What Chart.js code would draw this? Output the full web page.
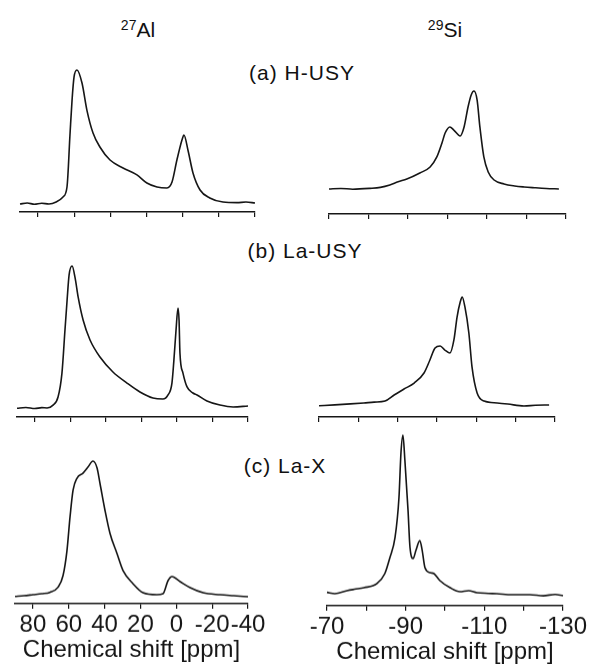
<!DOCTYPE html>
<html>
<head>
<meta charset="utf-8">
<script src="https://cdn.jsdelivr.net/npm/chart.js@4.4.0/dist/chart.umd.min.js"></script>
<style>
  body { margin: 0; width: 597px; height: 671px; background: #fff; position: relative; overflow: hidden;
         font-family: "Liberation Sans", Arial, sans-serif; color: #111; }
  canvas { position: absolute; }
  .lbl { position: absolute; font-size: 21px; line-height: 21px; white-space: nowrap;
         transform: translateX(-50%); letter-spacing: 1px; }
  .nuc { position: absolute; font-size: 21px; line-height: 21px; white-space: nowrap; transform: translateX(-50%); }
  .nuc sup { font-size: 14px; vertical-align: 0; position: relative; top: -7px; }
</style>
</head>
<body>
<div class="nuc" style="left:138px; top:19px;"><sup>27</sup>Al</div>
<div class="nuc" style="left:445px; top:19px;"><sup>29</sup>Si</div>
<div class="lbl" style="left:302px; top:62px;">(a) H-USY</div>
<div class="lbl" style="left:305px; top:240px;">(b) La-USY</div>
<div class="lbl" style="left:285px; top:455px;">(c) La-X</div>

<canvas id="alA" width="300" height="200"></canvas>
<canvas id="alB" width="300" height="200"></canvas>
<canvas id="alC" width="300" height="260"></canvas>
<canvas id="siA" width="300" height="200"></canvas>
<canvas id="siB" width="300" height="200"></canvas>
<canvas id="siC" width="300" height="260"></canvas>

<script>
// ====== Tick labels ======
const alTicks = [80, 60, 40, 20, 0, -20, -40];
const siTicks = [-70, -80, -90, -100, -110, -120, -130];
const siLabelled = [-70, -90, -110, -130];

// ====== 27Al spectra (ppm, relative intensity) ======
const alHusyShift = [90, 86, 82, 78, 74, 70, 66.2, 64, 62.3, 61.2, 60.1, 58.5, 55.7, 53, 49.6, 45.8, 40.2, 33, 25.3, 19.8, 14.2, 8.7, 5.9, 3.2, 0.4, -0.7, -2.9, -5.7, -9.6, -15, -22.3, -30, -35, -40];
const alHusyInt = [5.6, 6.3, 5.5, 6.2, 5.6, 7.0, 10.6, 17.6, 55.6, 78.9, 95.1, 100, 90.8, 71.8, 55.6, 45.8, 36.6, 31.0, 26.1, 20.4, 17.6, 16.9, 21.1, 36.6, 50.7, 54.2, 43.7, 27.5, 15.5, 9.9, 7.0, 6.6, 7.0, 6.3];

const alLausyShift = [90, 85, 80, 76, 73.1, 69.7, 66.9, 64.7, 63, 61.8, 60.7, 59, 57.3, 55.6, 52.8, 48.9, 43.3, 36, 28.1, 20.8, 13.5, 7.9, 5, 2.8, 1.7, 0.5, -0.6, -1.2, -1.7, -3.4, -5.7, -9, -11.3, -16.9, -24.2, -31.6, -40];
const alLausyInt = [5.8, 6.3, 5.6, 6.2, 6.0, 7.9, 13.2, 29.1, 57.6, 77.5, 94.0, 100, 92.1, 79.5, 64.2, 51, 39.7, 29.8, 22.5, 16.6, 12.6, 11.9, 14.6, 22.5, 37.7, 57.6, 72.2, 64.2, 42.4, 29.1, 19.9, 15.9, 14.6, 10.6, 7.9, 6.6, 7.3];

const alLaxShift = [90, 85, 80, 75, 70.5, 66, 63.2, 61, 59.3, 57.6, 55.4, 52.1, 49.3, 46.5, 44.2, 42.6, 39.8, 37, 33.1, 29.7, 24.2, 18.6, 10.8, 7.4, 4.6, 2.4, -2.1, -7.7, -14.9, -24.4, -32, -40];
const alLaxInt = [5.1, 5.6, 6.3, 7.0, 8.0, 11.5, 19.7, 37.3, 60.8, 79.6, 88, 91.5, 95.8, 100, 95.1, 84.5, 65.5, 49.3, 35.2, 23.2, 14.1, 7.7, 6.3, 7.0, 16.2, 19.0, 15.5, 11.3, 7.7, 6.3, 5.6, 4.9];

// ====== 29Si spectra ======
const siHusyShift = [-70, -73, -76, -80.4, -83, -85.4, -87.5, -89.7, -93, -95.6, -97.3, -98.6, -99.4, -100.6, -101.6, -103.2, -104.2, -105.2, -106, -106.7, -107.5, -108.2, -109.2, -110.3, -111.8, -114.3, -117, -119.4, -122, -125, -128.2];
const siHusyInt = [20.2, 20.6, 20.0, 20.7, 21.5, 23.4, 26.0, 28.2, 33.1, 37.9, 46, 57.3, 65.3, 70.2, 67.7, 62.9, 70.2, 86.3, 96, 99.2, 91.9, 70.2, 46, 33.9, 27.4, 24.2, 22.6, 21.8, 21.2, 20.6, 20.2];

const siLausyShift = [-70, -74, -78, -81.4, -84, -86.8, -89.1, -91.6, -94.2, -96.7, -98.2, -99.5, -100.8, -102, -103.3, -104.3, -105.1, -105.9, -106.4, -107.1, -108.1, -108.9, -110.2, -112, -115.3, -118, -122.1, -125, -128.5];
const siLausyInt = [9.4, 10.1, 10.9, 11.7, 12.4, 13.3, 18.3, 23.3, 28.3, 36.7, 47.5, 57.5, 59.2, 55.8, 53.3, 64.2, 83.3, 95.8, 100, 91.7, 70, 41.7, 20, 13.3, 11.7, 10.8, 9.2, 9.8, 10];

const siLaxShift = [-70, -72, -75.1, -77, -79.4, -82.7, -84.7, -86, -87.3, -88.3, -88.8, -89.3, -89.8, -90.6, -91.1, -91.9, -92.6, -93.6, -94.2, -94.9, -96.2, -97.2, -98.7, -101.3, -103.8, -106, -108.1, -111, -113.2, -117, -121.6, -125, -128, -130];
const siLaxInt = [7.8, 7.0, 8.8, 9.6, 10.5, 12.9, 18.7, 28.1, 39.8, 63.2, 88.9, 99.4, 84.8, 55.6, 33.9, 27.5, 32.2, 38, 32.2, 22.2, 19.3, 18.7, 14.6, 10.5, 8.2, 8.8, 7.6, 7.2, 7.0, 6.4, 6.4, 5.8, 6.6, 5.8];

// ===== Styles =====
const INK = '#161616';
Chart.defaults.font.family = '"Liberation Sans", Arial, sans-serif';
Chart.defaults.color = INK;

// put the chart area of a panel on a given box of the page
function place(chart, box) {
    const a = chart.chartArea;
    const w = chart.width + (box.right - box.left) - (a.right - a.left);
    const h = chart.height + (box.bottom - box.top) - (a.bottom - a.top);
    chart.resize(w, h);
    const b = chart.chartArea;
    chart.canvas.style.left = (box.left - b.left) + 'px';
    chart.canvas.style.top = (box.top - b.top) + 'px';
}

function panel(id, shifts, ints, range, tickVals, labelled, showLabels, box) {
    const chart = new Chart(document.getElementById(id), {
        type: 'line',
        data: {
            datasets: [{
                data: shifts.map((s, i) => ({ x: s, y: ints[i] })),
                borderColor: INK,
                borderWidth: 1.6,
                pointRadius: 0,
                cubicInterpolationMode: 'monotone',
                clip: false
            }]
        },
        options: {
            responsive: false,
            maintainAspectRatio: false,
            animation: false,
            layout: { padding: { left: 45, right: 45, top: 6, bottom: 10 } },
            plugins: { legend: { display: false }, tooltip: { enabled: false } },
            scales: {
                x: {
                    type: 'linear',
                    reverse: true,
                    min: range[0],
                    max: range[1],
                    afterBuildTicks: (axis) => { axis.ticks = tickVals.map(v => ({ value: v })); },
                    border: { display: true, color: INK, width: 1.6 },
                    grid: { drawOnChartArea: false, drawTicks: true, tickLength: 5, color: INK, lineWidth: 1.2 },
                    ticks: {
                        display: showLabels,
                        autoSkip: false,
                        maxRotation: 0,
                        minRotation: 0,
                        padding: 2,
                        font: { size: 24 },
                        callback: (v) => labelled.includes(v) ? String(v) : ''
                    },
                    title: {
                        display: showLabels,
                        text: 'Chemical shift [ppm]',
                        font: { size: 24 },
                        padding: { top: -6, bottom: 0 }
                    }
                },
                y: { display: false, min: 0, max: 100 }
            }
        }
    });
    place(chart, box);
    return chart;
}

panel('alA', alHusyShift, alHusyInt, [-40, 90], alTicks, alTicks, false, { left: 20, right: 255, top: 70, bottom: 212 });
panel('alB', alLausyShift, alLausyInt, [-40, 90], alTicks, alTicks, false, { left: 17, right: 248, top: 266, bottom: 417 });
panel('alC', alLaxShift, alLaxInt, [-40, 90], alTicks, alTicks, true, { left: 15, right: 248, top: 461, bottom: 603 });
panel('siA', siHusyShift, siHusyInt, [-130, -70], siTicks, siLabelled, false, { left: 329, right: 566, top: 90, bottom: 214 });
panel('siB', siLausyShift, siLausyInt, [-130, -70], siTicks, siLabelled, false, { left: 319, right: 555, top: 297, bottom: 417 });
panel('siC', siLaxShift, siLaxInt, [-130, -70], siTicks, siLabelled, true, { left: 327, right: 563, top: 434, bottom: 605 });
</script>
</body>
</html>
